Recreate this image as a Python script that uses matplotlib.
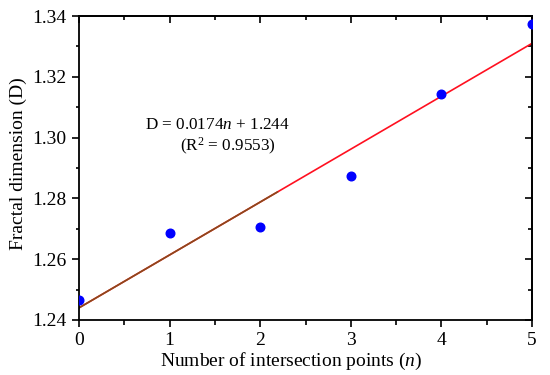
import numpy as np
import matplotlib
matplotlib.use("Agg")
import matplotlib.pyplot as plt
from matplotlib.ticker import MultipleLocator, NullFormatter

plt.rcParams['font.family'] = ['Liberation Serif', 'DejaVu Serif']
plt.rcParams['mathtext.fontset'] = 'custom'
plt.rcParams['mathtext.rm'] = 'Liberation Serif'
plt.rcParams['mathtext.it'] = 'Liberation Serif:italic'

n_points = [0, 1, 2, 3, 4, 5]
fractal_d = [1.2465, 1.2685, 1.2705, 1.2875, 1.3145, 1.3375]
slope = 0.0174
intercept = 1.244
brown_end = 2.19  # left part of the fit line shows up brown in the original

fig = plt.figure(figsize=(5.5, 3.75), dpi=100)
ax = fig.add_axes([79 / 550, 1 - 320 / 375, 453 / 550, 304 / 375])

fit_x = np.array([0, 5])
ax.plot(fit_x, slope * fit_x + intercept, color='#ff1020', lw=1.2, zorder=2)
bx = np.array([0, brown_end])
ax.plot(bx, slope * bx + intercept, color='#8a4a1c', lw=1.2, zorder=2)
ax.plot(n_points, fractal_d, 'o', color='blue', ms=6.2, zorder=3)

ax.set_xlim(0, 5)
ax.set_ylim(1.24, 1.34)
ax.xaxis.set_major_locator(MultipleLocator(1))
ax.xaxis.set_minor_locator(MultipleLocator(0.5))
ax.yaxis.set_major_locator(MultipleLocator(0.02))
ax.yaxis.set_minor_locator(MultipleLocator(0.01))
ax.yaxis.set_major_formatter(plt.FormatStrFormatter('%.2f'))
ax.tick_params(which='both', direction='out', width=1.2)
ax.tick_params(which='major', length=5, labelsize=14)
ax.tick_params(axis='x', which='major', pad=3.5)
ax.tick_params(axis='y', which='major', pad=4)
ax.tick_params(axis='x', which='minor', length=3.5)
ax.tick_params(axis='y', which='minor', length=2)
for s in ax.spines.values():
    s.set_linewidth(1.3)

# top and right axes carry inward ticks without labels
top = ax.secondary_xaxis('top')
right = ax.secondary_yaxis('right')
for sec, major, minor in [(top, 1, 0.5), (right, 0.02, 0.01)]:
    a = sec.xaxis if sec is top else sec.yaxis
    a.set_major_locator(MultipleLocator(major))
    a.set_minor_locator(MultipleLocator(minor))
    a.set_major_formatter(NullFormatter())
    sec.tick_params(which='both', direction='in', width=1.2)
    sec.tick_params(which='major', length=5)
    sec.tick_params(which='minor', length=3)
    for s in sec.spines.values():
        s.set_linewidth(1.3)

ax.set_xlabel('Number of intersection points ($\\mathit{n}$)', fontsize=14)
ax.xaxis.set_label_coords(0.468, -0.1, transform=ax.transAxes)
ax.xaxis.label.set_va('top')
ax.set_ylabel('Fractal dimension (D)', fontsize=14)
ax.yaxis.set_label_coords(-0.115, 0.515)

ax.text(1.53, 1.304, 'D = 0.0174$\\mathit{n}$ + 1.244', fontsize=12.3, ha='center', va='center')
ax.text(1.64, 1.297, '(R$^2$ = 0.9553)', fontsize=12.3, ha='center', va='center')

fig.savefig('out.png', dpi=100)
